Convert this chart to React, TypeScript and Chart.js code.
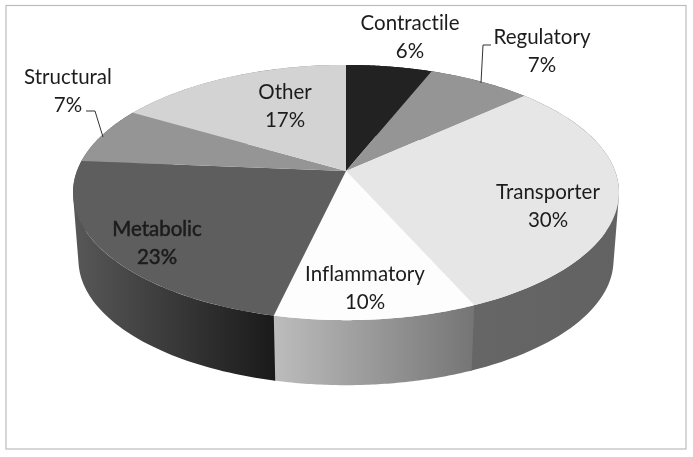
import React, { useEffect, useRef } from "react";
import { Chart, registerables } from "chart.js";

Chart.register(...registerables);

const categories = ["Contractile", "Regulatory", "Transporter", "Inflammatory", "Metabolic", "Structural", "Other"];
const shares = [6, 7.2, 30.2, 10.2, 22.7, 7.2, 16.5];
const faceColors = ["#222222", "#959595", "#e6e6e6", "#fdfdfd", "#5e5e5e", "#959595", "#d3d3d3"];
const sideLeft = ["#222222", "#555555", "#666666", "#bdbdbd", "#585858", "#555555", "#888888"];
const sideRight = ["#111111", "#444444", "#626262", "#757575", "#1a1a1a", "#444444", "#777777"];
const labelCentres: [number, number][] = [
  [410, 23], [542, 37], [548, 192], [365, 274], [157, 229], [68, 77], [285, 92],
];
const boldLabels = ["Metabolic"];
const leaderLines: [number, number][][] = [
  [[481, 83], [483, 45], [491, 45]],
  [[86, 111], [95, 111], [103, 137]],
];

const WIDTH = 693;
const HEIGHT = 457;
const X_STRETCH = 2.17;
const TILT = -0.1686;
const DEPTH = 68;
const BASE_SCALE = 0.98;
const LINE_GAP = 28;
const WALL_OVERLAP = 0.006;

function project(el: any, angle: number, radius: number, scale = 1, drop = 0): [number, number] {
  const u = (Math.cos(angle) * radius) / el.outerRadius;
  const v = (Math.sin(angle) * radius) / el.outerRadius;
  const w = 1 + TILT * v;
  return [
    el.x + (scale * X_STRETCH * el.outerRadius * u) / w,
    el.y + drop + (scale * el.outerRadius * v) / w,
  ];
}

const pie3d = {
  id: "pie3d",
  beforeDraw(chart: any) {
    const { ctx } = chart;
    ctx.save();
    ctx.fillStyle = "#ffffff";
    ctx.fillRect(0, 0, WIDTH, HEIGHT);
    ctx.strokeStyle = "#bcbcbc";
    ctx.lineWidth = 1.2;
    ctx.strokeRect(6, 5.5, 680, 443.5);
    ctx.restore();
  },
  beforeDatasetsDraw(chart: any) {
    const { ctx } = chart;
    const arcs = chart.getDatasetMeta(0).data;
    const steps = 64;
    ctx.save();
    // Sides first: the top faces cover whatever lies behind them.
    arcs.forEach((el: any, i: number) => {
      const top: [number, number][] = [];
      const bottom: [number, number][] = [];
      const end = el.endAngle + WALL_OVERLAP;
      for (let s = 0; s <= steps; s++) {
        const a = el.startAngle + ((end - el.startAngle) * s) / steps;
        top.push(project(el, a, el.outerRadius));
        bottom.push(project(el, a, el.outerRadius, BASE_SCALE, DEPTH));
      }
      const xs = top.map((p) => p[0]);
      const grad = ctx.createLinearGradient(Math.min(...xs), 0, Math.max(...xs), 0);
      grad.addColorStop(0, sideLeft[i]);
      grad.addColorStop(1, sideRight[i]);
      ctx.fillStyle = grad;
      ctx.beginPath();
      for (let s = 0; s < steps; s++) {
        const quad = [top[s], top[s + 1], bottom[s + 1], bottom[s]];
        let area = 0;
        quad.forEach((p, k) => {
          const q = quad[(k + 1) % 4];
          area += p[0] * q[1] - q[0] * p[1];
        });
        if (area < 0) quad.reverse();
        ctx.moveTo(quad[0][0], quad[0][1]);
        for (let k = 1; k < 4; k++) ctx.lineTo(quad[k][0], quad[k][1]);
        ctx.closePath();
      }
      ctx.fill();
    });
    arcs.forEach((el: any, i: number) => {
      ctx.fillStyle = faceColors[i];
      ctx.beginPath();
      ctx.moveTo(el.x, el.y);
      for (let s = 0; s <= steps; s++) {
        const a = el.startAngle + ((el.endAngle - el.startAngle) * s) / steps;
        const p = project(el, a, el.outerRadius);
        ctx.lineTo(p[0], p[1]);
      }
      ctx.closePath();
      ctx.fill();
    });
    ctx.strokeStyle = "#333333";
    ctx.lineWidth = 1;
    leaderLines.forEach((line) => {
      ctx.beginPath();
      line.forEach((p, k) => (k ? ctx.lineTo(p[0], p[1]) : ctx.moveTo(p[0], p[1])));
      ctx.stroke();
    });
    ctx.textAlign = "center";
    ctx.textBaseline = "middle";
    ctx.textRendering = "optimizeSpeed";
    categories.forEach((name, i) => {
      const [x, y] = labelCentres[i];
      const bold = boldLabels.includes(name);
      ctx.font = `20.5px Lato`;
      ctx.fillStyle = "#1c1c1c";
      ctx.fillText(name, x, y);
      ctx.fillText(`${Math.round(shares[i])}%`, x, y + LINE_GAP);
      if (bold) {
        ctx.strokeStyle = "#1c1c1c";
        ctx.lineWidth = 0.5;
        ctx.strokeText(name, x, y);
        ctx.strokeText(`${Math.round(shares[i])}%`, x, y + LINE_GAP);
      }
    });
    ctx.restore();
    return false;
  },
};

export default function App() {
  const ref = useRef<HTMLCanvasElement>(null);
  useEffect(() => {
    const chart = new Chart(ref.current as HTMLCanvasElement, {
      type: "pie",
      data: {
        labels: categories,
        datasets: [{ data: shares, backgroundColor: faceColors, borderWidth: 0 }],
      },
      options: {
        responsive: false,
        animation: false,
        layout: { padding: { left: 0, right: 1, top: 47, bottom: 162 } },
        plugins: { legend: { display: false }, tooltip: { enabled: false } },
      },
      plugins: [pie3d],
    } as any);
    return () => chart.destroy();
  }, []);
  return (
    <div style={{ position: "fixed", left: 0, top: 0 }}>
      <canvas ref={ref} width={WIDTH} height={HEIGHT} style={{ display: "block" }} />
    </div>
  );
}
